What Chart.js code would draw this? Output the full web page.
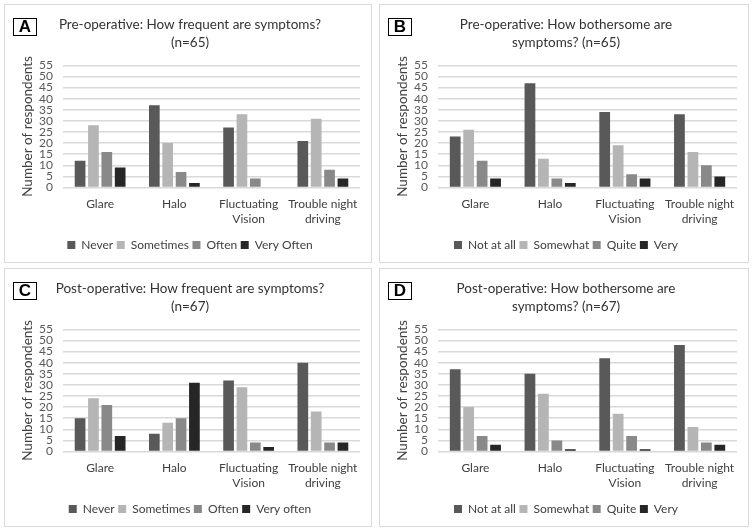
<!DOCTYPE html>
<html>
<head>
<meta charset="utf-8">
<script src="https://cdn.jsdelivr.net/npm/chart.js@4.4.0/dist/chart.umd.min.js"></script>
<style>
  body { margin: 0; width: 753px; height: 531px; background: #fff; position: relative; font-family: Lato, "Liberation Sans", sans-serif; }
  .panel { position: absolute; border: 1px solid #d9d9d9; box-sizing: border-box; }
  .panel canvas { position: absolute; left: 0; top: 0; }
  .tag { position: absolute; left: 8px; top: 13px; width: 24px; height: 18px; border: 1.5px solid #000; box-sizing: border-box;
         font: bold 17px "Liberation Sans", Arial, sans-serif; line-height: 15px; text-align: center; color: #000; }
</style>
</head>
<body>
<div class="panel" id="pA" style="left:4px;top:4px;width:368px;height:259px"><canvas id="cA"></canvas><div class="tag">A</div></div>
<div class="panel" id="pB" style="left:379px;top:4px;width:370px;height:259px"><canvas id="cB"></canvas><div class="tag">B</div></div>
<div class="panel" id="pC" style="left:4px;top:268px;width:368px;height:259px"><canvas id="cC"></canvas><div class="tag">C</div></div>
<div class="panel" id="pD" style="left:379px;top:268px;width:370px;height:259px"><canvas id="cD"></canvas><div class="tag">D</div></div>
<script>
const categories = ["Glare", "Halo", ["Fluctuating", "Vision"], ["Trouble night", "driving"]];
const yTicks = [0, 5, 10, 15, 20, 25, 30, 35, 40, 45, 50, 55];

const freqLabelsPre = ["Never", "Sometimes", "Often", "Very Often"];
const freqLabelsPost = ["Never", "Sometimes", "Often", "Very often"];
const botherLabels = ["Not at all", "Somewhat", "Quite", "Very"];

// A: pre-operative frequency (n=65)
const preFreqNever = [12, 37, 27, 21];
const preFreqSometimes = [28, 20, 33, 31];
const preFreqOften = [16, 7, 4, 8];
const preFreqVeryOften = [9, 2, 0, 4];

// B: pre-operative bother (n=65)
const preBotherNotAtAll = [23, 47, 34, 33];
const preBotherSomewhat = [26, 13, 19, 16];
const preBotherQuite = [12, 4, 6, 10];
const preBotherVery = [4, 2, 4, 5];

// C: post-operative frequency (n=67)
const postFreqNever = [15, 8, 32, 40];
const postFreqSometimes = [24, 13, 29, 18];
const postFreqOften = [21, 15, 4, 4];
const postFreqVeryOften = [7, 31, 2, 4];

// D: post-operative bother (n=67)
const postBotherNotAtAll = [37, 35, 42, 48];
const postBotherSomewhat = [20, 26, 17, 11];
const postBotherQuite = [7, 5, 7, 4];
const postBotherVery = [3, 1, 1, 3];

const colors = ["#595959", "#b5b5b5", "#898989", "#262626"];
const FONT = "Lato, 'Liberation Sans', sans-serif";

function makeChart(id, title, labels, series) {
  const canvas = document.getElementById(id);
  const panel = canvas.parentElement;
  canvas.width = panel.clientWidth;
  canvas.height = panel.clientHeight;
  canvas.style.width = panel.clientWidth + "px";
  canvas.style.height = panel.clientHeight + "px";
  return new Chart(canvas.getContext("2d"), {
    type: "bar",
    data: {
      labels: categories,
      datasets: series.map((d, i) => ({
        label: labels[i],
        data: d,
        backgroundColor: colors[i],
        barPercentage: 0.8,
        categoryPercentage: 0.72
      }))
    },
    options: {
      responsive: false,
      animation: false,
      devicePixelRatio: 1,
      layout: { padding: { left: 15, right: 11, top: 0, bottom: 1 } },
      plugins: {
        title: {
          display: true,
          text: title,
          color: "#333333",
          font: { family: FONT, size: 13.5, weight: "normal", lineHeight: 1.33 },
          padding: { top: 11, bottom: 13.5 }
        },
        legend: {
          position: "bottom",
          labels: {
            color: "#404040",
            font: { family: FONT, size: 12 },
            boxWidth: 8,
            boxHeight: 8,
            padding: 3.5
          }
        },
        tooltip: { enabled: false }
      },
      scales: {
        x: {
          grid: { display: false, drawTicks: false },
          border: { display: false },
          ticks: { color: "#404040", font: { family: FONT, size: 12, lineHeight: 1.25 }, padding: 9, maxRotation: 0, autoSkip: false }
        },
        y: {
          min: 0,
          max: 55,
          afterBuildTicks: s => { s.ticks = yTicks.map(v => ({ value: v })); },
          afterFit: s => { s.width = 43; },
          grid: { color: "#d9d9d9", lineWidth: 1.5, drawTicks: false },
          border: { display: false },
          ticks: { color: "#595959", font: { family: FONT, size: 12 }, padding: 10, autoSkip: false },
          title: { display: true, text: "Number of respondents", color: "#404040", font: { family: FONT, size: 13.5 }, padding: 0 }
        }
      }
    }
  });
}

makeChart("cA", ["Pre-operative: How frequent are symptoms?", "(n=65)"], freqLabelsPre,
  [preFreqNever, preFreqSometimes, preFreqOften, preFreqVeryOften]);
makeChart("cB", ["Pre-operative: How bothersome are", "symptoms? (n=65)"], botherLabels,
  [preBotherNotAtAll, preBotherSomewhat, preBotherQuite, preBotherVery]);
makeChart("cC", ["Post-operative: How frequent are symptoms?", "(n=67)"], freqLabelsPost,
  [postFreqNever, postFreqSometimes, postFreqOften, postFreqVeryOften]);
makeChart("cD", ["Post-operative: How bothersome are", "symptoms? (n=67)"], botherLabels,
  [postBotherNotAtAll, postBotherSomewhat, postBotherQuite, postBotherVery]);
</script>
</body>
</html>
